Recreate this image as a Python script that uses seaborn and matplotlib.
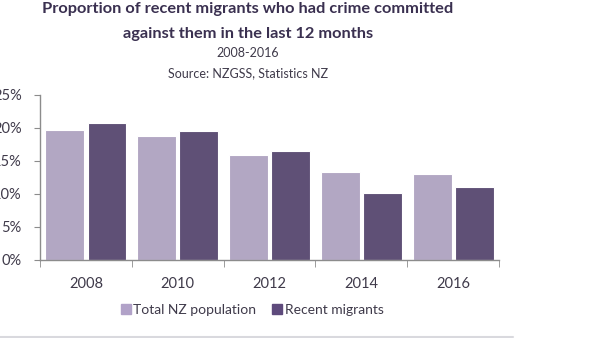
import matplotlib
matplotlib.use("Agg")
import matplotlib.pyplot as plt
import matplotlib.lines as mlines
import pandas as pd
import seaborn as sns

# dados
years = ["2008", "2010", "2012", "2014", "2016"]
total_nz = [19.7, 18.8, 15.9, 13.4, 13.0]
recent_migrants = [20.7, 19.6, 16.5, 10.1, 11.0]
series = ["Total NZ population", "Recent migrants"]
colors = ["#B1A2C8", "#5E4A7C"]

df = pd.DataFrame({
    "year": years * 2,
    "value": total_nz + recent_migrants,
    "series": [series[0]] * len(years) + [series[1]] * len(years),
})

sns.set_style("white")
plt.rcParams["font.family"] = ["Lato", "DejaVu Sans"]
txt = "#3F3A4A"
title_c = "#3A3050"

fig = plt.figure(figsize=(6.14, 3.38), dpi=100)
ax = fig.add_axes([0.065, 0.231, 0.748, 0.488])
sns.barplot(data=df, x="year", y="value", hue="series", palette=colors,
            width=0.92, gap=0.08, edgecolor="white", linewidth=0.8,
            legend=False, ax=ax)

ax.set_ylim(0, 25)
ax.set_xlim(-0.5, 4.5)
ax.set_yticks([0, 5, 10, 15, 20, 25])
ax.set_yticklabels([f"{v}%" for v in [0, 5, 10, 15, 20, 25]])
ax.set_xlabel("")
ax.set_ylabel("")
for s in ["top", "right"]:
    ax.spines[s].set_visible(False)
for s in ["left", "bottom"]:
    ax.spines[s].set_color("#8C8C8C")
    ax.spines[s].set_linewidth(1.0)

ax.tick_params(axis="y", which="major", left=True, length=4, color="#8C8C8C",
               labelsize=10.5, labelcolor=txt, pad=9)
ax.tick_params(axis="x", which="major", bottom=False, labelsize=10.5,
               labelcolor=txt, pad=9)
ax.set_xticks([-0.5, 0.5, 1.5, 2.5, 3.5, 4.5], minor=True)
ax.tick_params(axis="x", which="minor", bottom=True, length=5, color="#8C8C8C")

# títulos
fig.text(0.404, 0.972, "Proportion of recent migrants who had crime committed",
         ha="center", va="center", fontsize=11.8, fontweight="bold", color=title_c)
fig.text(0.404, 0.900, "against them in the last 12 months",
         ha="center", va="center", fontsize=11.8, fontweight="bold", color=title_c)
fig.text(0.404, 0.843, "2008-2016", ha="center", va="center", fontsize=9, color=txt)
fig.text(0.404, 0.783, "Source: NZGSS, Statistics NZ", ha="center", va="center",
         fontsize=9, color=txt)

# legenda
handles = [mlines.Line2D([], [], marker="s", linestyle="", markersize=7,
                         color=c, label=l) for c, l in zip(colors, series)]
fig.legend(handles=handles, loc="center", bbox_to_anchor=(0.409, 0.082), ncol=2,
           frameon=False, fontsize=10, handletextpad=0.05, columnspacing=1.0,
           handlelength=1.0, labelcolor=txt)

# linha cinza no rodapé
fig.add_artist(mlines.Line2D([0, 0.835], [0.004, 0.004], color="#D9D9DE",
                             linewidth=1.5, transform=fig.transFigure))

fig.savefig("out.png", dpi=100)
